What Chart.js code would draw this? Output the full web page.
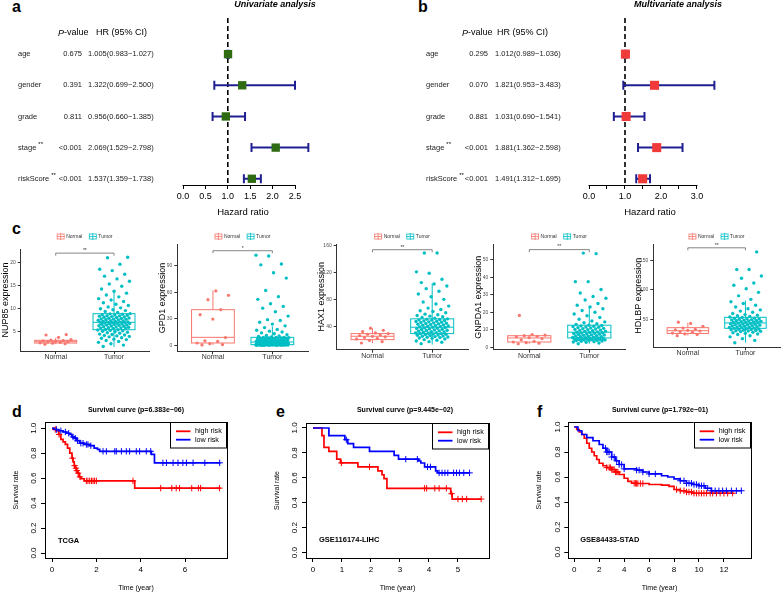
<!DOCTYPE html>
<html>
<head>
<meta charset="utf-8">
<title>Risk model figure</title>
<script src="https://cdn.jsdelivr.net/npm/chart.js@4.4.1/dist/chart.umd.min.js"></script>
<style>
  body { margin: 0; background: #fff; }
  #fig { position: relative; width: 784px; height: 592px; overflow: hidden; background: #fff; }
  #fig canvas { position: absolute; }
  .tag { position: absolute; font: bold 16px 'Liberation Sans', Arial, sans-serif; line-height: 16px; color: #000; }
</style>
</head>
<body>
<div id="fig">
  <div class="tag" style="left:12px;top:-1px">a</div>
  <div class="tag" style="left:418px;top:-1px">b</div>
  <div class="tag" style="left:12px;top:221px">c</div>
  <div class="tag" style="left:12px;top:404px">d</div>
  <div class="tag" style="left:276px;top:404px">e</div>
  <div class="tag" style="left:537px;top:404px">f</div>
</div>
<script>
// forest plots (a, b)
const factors = ['age', 'gender', 'grade', 'stage', 'riskScore'];
const factorStars = ['', '', '', '**', '**'];

const uniP = ['0.675', '0.391', '0.811', '<0.001', '<0.001'];
const uniHR = [1.005, 1.322, 0.956, 2.069, 1.537];
const uniLow = [0.983, 0.699, 0.660, 1.529, 1.359];
const uniHigh = [1.027, 2.500, 1.385, 2.798, 1.738];
const uniTicks = [0, 0.5, 1, 1.5, 2, 2.5];
const uniTickLabels = ['0.0', '0.5', '1.0', '1.5', '2.0', '2.5'];

const multiP = ['0.295', '0.070', '0.881', '<0.001', '<0.001'];
const multiHR = [1.012, 1.821, 1.031, 1.881, 1.491];
const multiLow = [0.989, 0.953, 0.690, 1.362, 1.312];
const multiHigh = [1.036, 3.483, 1.541, 2.598, 1.695];
const multiTicks = [0, 0.5, 1, 1.5, 2, 2.5, 3];
const multiTickLabels = ['0.0', '', '1.0', '', '2.0', '', '3.0'];

// box plots (c): [lower whisker, q1, median, q3, upper whisker]
const groups = ['Normal', 'Tumor'];

const nup85Normal = [2.2, 2.3, 2.4, 2.5, 2.6, 2.7, 2.75, 2.8, 2.9, 3.0, 3.1, 3.2, 3.7, 4.2, 4.3];
const nup85Tumor = [1.7, 2.0, 2.3, 2.6, 2.8, 3.0, 3.2, 3.3, 3.5, 3.6, 3.8, 3.9, 4.0, 4.1, 4.2, 4.3, 4.4, 4.6, 4.7, 4.8, 4.9, 5.0, 5.1, 5.2, 5.3, 5.35, 5.4,
  5.6, 5.65, 5.7, 5.75, 5.8, 5.9, 5.95, 6.0, 6.1, 6.15, 6.2, 6.3, 6.35, 6.4, 6.5, 6.55, 6.6, 6.65, 6.7, 6.75, 6.8, 6.85, 6.9, 6.95, 7.0, 7.0, 7.05,
  7.15, 7.2, 7.25, 7.3, 7.4, 7.45, 7.5, 7.6, 7.65, 7.7, 7.8, 7.85, 7.9, 8.0, 8.05, 8.1, 8.2, 8.3, 8.35, 8.4, 8.5, 8.55, 8.6, 8.7, 8.8, 8.85,
  9.1, 9.3, 9.5, 9.7, 9.9, 10.1, 10.3, 10.6, 10.9, 11.2, 11.5, 11.8, 12.1, 12.5, 12.9, 13.3, 13.7, 14.2, 14.8, 15.3, 15.9, 16.4, 17.0, 17.4, 18.2, 18.5, 19.6, 21.0, 21.1];
const nup85Stats = [[2.2, 2.45, 2.74, 3.04, 3.6], [1.6, 5.35, 6.96, 8.83, 13.9]];
const nup85Ticks = [5, 10, 15, 20];

const gpd1Normal = [0.4, 0.8, 1.8, 2.6, 4.5, 5.0, 8.8, 29.7, 34.6, 40.3, 51.6, 56.5, 61.5];
const gpd1Tumor = [0.0, 0.0, 0.05, 0.1, 0.1, 0.15, 0.2, 0.2, 0.25, 0.3, 0.3, 0.35, 0.4, 0.4, 0.45, 0.5, 0.5, 0.55, 0.55, 0.6, 0.6, 0.65, 0.65, 0.7, 0.7, 0.2, 0.1,
  0.8, 0.9, 1.0, 1.1, 1.2, 1.3, 1.4, 1.5, 1.6, 1.7, 1.8, 1.9, 2.0, 2.1, 2.2, 2.3, 2.4, 2.5, 2.6, 2.7, 2.8, 2.9, 3.0, 3.1, 3.2, 3.4, 3.5, 3.6,
  3.8, 4.0, 4.2, 4.4, 4.6, 4.8, 5.0, 5.2, 5.4, 5.6, 5.8, 6.0, 6.2, 6.4, 6.6, 6.8, 7.0, 7.2, 7.4, 7.6, 7.8, 8.0, 8.2, 8.4, 8.6, 8.8, 9.0, 9.0,
  9.5, 10, 10.5, 11, 12, 13, 14, 15, 16, 17, 18, 20, 22, 24, 26, 28, 29, 33, 38, 42, 44, 47, 52, 55, 62, 76, 82, 91, 92, 101, 102];
const gpd1Stats = [[0.4, 2.6, 9.0, 40.3, 62.0], [0.0, 0.7, 3.7, 9.0, 21.5]];
const gpd1Ticks = [0, 30, 60, 90];

const hax1Normal = [15, 17, 19, 21, 22, 23, 24, 25, 26, 27, 28, 29, 30, 32, 34, 37];
const hax1Tumor = [14, 16, 17, 18, 19, 20, 21, 22, 22.5, 23, 23.5, 24, 24.5, 25, 25.5, 26, 26.5, 27, 27.5, 28, 28.5, 29, 29,
  29.5, 30, 30.5, 31, 31.5, 32, 32.5, 33, 33.5, 34, 34.5, 35, 35.5, 36, 36.5, 37, 37.5, 38, 38.5, 39, 39.5, 40,
  40.5, 41, 41.5, 42, 42.5, 43, 43.5, 44, 44.5, 45, 45.5, 46, 46.5, 47, 47.5, 48, 48.5, 49, 49.5, 50, 50.5, 51,
  52, 53, 54, 55, 56, 57, 58, 60, 62, 63, 65, 67, 70, 73, 76, 80, 84, 88, 92, 96, 100, 103, 105, 110, 119, 121, 149, 149];
const hax1Stats = [[15, 20, 25, 29, 37], [12.5, 29, 38.5, 51, 104]];
const hax1Ticks = [40, 80, 120, 160];

const gnpda1Normal = [2.0, 2.3, 2.6, 3.0, 3.4, 4.3, 5.0, 5.5, 6.0, 6.3, 6.6, 6.9, 7.2, 18.2];
const gnpda1Tumor = [2.0, 2.4, 2.8, 3.0, 3.2, 3.4, 3.6, 3.8, 3.9, 4.0, 4.1, 4.2, 4.3, 4.4, 4.5, 4.6, 4.7, 4.8, 4.9, 5.0, 5.1, 5.2, 5.3,
  5.4, 5.6, 5.8, 6.0, 6.1, 6.3, 6.5, 6.6, 6.8, 7.0, 7.1, 7.3, 7.5, 7.6, 7.8, 8.0, 8.1, 8.3, 8.5, 8.6,
  8.8, 9.0, 9.2, 9.4, 9.6, 9.8, 10.0, 10.2, 10.4, 10.6, 10.8, 11.0, 11.2, 11.4, 11.6, 11.8, 12.0, 12.2, 12.4, 12.6,
  13, 13.5, 14, 14.5, 15, 16, 17, 18, 19, 20, 21, 22, 23, 24, 25, 27, 28, 29, 31, 33, 37.5, 37.5, 53.5, 53.8];
const gnpda1Stats = [[2.0, 3.0, 5.3, 6.6, 7.2], [2.0, 5.3, 8.6, 12.6, 23.5]];
const gnpda1Ticks = [0, 10, 20, 30, 40, 50];

const hdlbpNormal = [22, 24, 25, 26.5, 28, 29, 30, 31, 32, 33, 35, 38, 43, 45];
const hdlbpTumor = [10, 14, 17, 20, 22, 24, 25, 26, 27, 28, 29, 29.5, 30, 30.5, 31, 31.5, 32, 32.5, 33, 33.5, 34, 34.5,
  35, 35.5, 36, 36.5, 37, 37.5, 38, 38.5, 39, 39.5, 40, 40.5, 41, 41.5, 42, 42.5, 43, 43.5,
  44, 44.5, 45, 45.5, 46, 46.5, 47, 47.5, 48, 48.5, 49, 49.5, 50, 50.5, 51, 51.5, 52, 53,
  54, 55, 56, 57, 58, 60, 62, 64, 66, 68, 71, 74, 77, 80, 84, 90, 96, 102, 108, 112, 120, 124, 135, 135, 165];
const hdlbpStats = [[22, 25.8, 30.5, 35.7, 44], [10, 34.6, 43.7, 53.4, 82]];
const hdlbpTicks = [50, 100, 150];

// survival curves (d, e, f)
const survTicks = [0, 0.2, 0.4, 0.6, 0.8, 1.0];
const survTickLabels = ['0.0', '0.2', '0.4', '0.6', '0.8', '1.0'];

const tcgaHighTime = [0, 0.1, 0.2, 0.3, 0.4, 0.5, 0.6, 0.7, 0.8, 0.9, 0.95, 1.0, 1.05, 1.1, 1.15, 1.22, 1.3, 1.45, 3.73, 7.6];
const tcgaHighSurv = [1, 0.99, 0.98, 0.95, 0.91, 0.89, 0.87, 0.84, 0.8, 0.76, 0.73, 0.7, 0.68, 0.66, 0.64, 0.61, 0.595, 0.578, 0.52, 0.52];
const tcgaHighCens = [0.15, 0.32, 0.92, 1.02, 1.08, 1.12, 1.18, 1.26, 1.55, 1.62, 1.7, 1.78, 1.85, 1.92, 2.0, 3.65, 4.9, 5.4, 5.6, 5.75, 6.3, 6.6, 6.7, 7.55];
const tcgaLowTime = [0, 0.1, 0.3, 0.5, 0.65, 0.8, 0.9, 1.0, 1.1, 1.25, 1.45, 1.7, 1.9, 2.05, 2.15, 4.48, 4.62, 7.6];
const tcgaLowSurv = [1, 0.99, 0.98, 0.97, 0.96, 0.95, 0.93, 0.92, 0.9, 0.88, 0.87, 0.86, 0.84, 0.83, 0.815, 0.79, 0.723, 0.723];
const tcgaLowCens = [0.2, 0.4, 0.6, 0.75, 0.95, 1.05, 1.15, 1.3, 1.4, 1.55, 1.62, 1.75, 2.3, 2.45, 2.83, 2.9, 3.13, 3.35, 3.5, 3.8, 3.95, 4.25, 4.45,
  5.0, 5.16, 5.46, 5.68, 5.9, 6.06, 6.36, 6.89, 7.56];
const tcgaXTicks = [0, 2, 4, 6];

const lihcHighTime = [0, 0.31, 0.38, 0.55, 0.82, 0.95, 1.55, 2.24, 2.38, 2.45, 2.55, 4.75, 4.8, 5.8];
const lihcHighSurv = [1, 0.938, 0.844, 0.813, 0.75, 0.72, 0.688, 0.656, 0.625, 0.594, 0.516, 0.473, 0.43, 0.43];
const lihcHighCens = [0.98, 1.95, 3.85, 3.92, 4.2, 4.35, 4.6, 4.78, 5.0, 5.15, 5.3, 5.8];
const lihcLowTime = [0, 0.55, 1.1, 1.2, 1.4, 1.95, 2.8, 2.95, 3.65, 3.72, 3.85, 4.23, 4.3, 5.4];
const lihcLowSurv = [1, 0.938, 0.906, 0.875, 0.844, 0.813, 0.781, 0.75, 0.735, 0.719, 0.688, 0.656, 0.64, 0.64];
const lihcLowCens = [1.15, 3.2, 3.6, 3.95, 4.05, 4.35, 4.45, 4.55, 4.65, 4.85, 4.95, 5.05, 5.2, 5.4];
const lihcXTicks = [0, 1, 2, 3, 4, 5];

const stadHighTime = [0, 0.2, 0.4, 0.6, 0.8, 1.0, 1.2, 1.4, 1.6, 1.8, 2.0, 2.3, 2.6, 3.0, 3.3, 3.6, 4.0, 4.3, 4.6, 5.0, 6.0, 7.0, 7.6, 8.0, 8.5, 9.0, 9.5, 12.8];
const stadHighSurv = [1, 0.98, 0.96, 0.94, 0.91, 0.87, 0.83, 0.8, 0.77, 0.74, 0.71, 0.69, 0.675, 0.66, 0.64, 0.62, 0.59, 0.565, 0.55, 0.548, 0.54, 0.535, 0.525, 0.5, 0.49, 0.48, 0.47, 0.47];
const stadHighCens = [2.6, 2.8, 2.9, 3.0, 3.1, 3.2, 3.3, 3.4, 3.5, 4.8, 4.9, 5.0, 5.1, 5.3, 5.5, 8.2, 8.5, 8.8, 9.0, 9.2, 9.4, 9.6, 9.8,
  10.0, 10.2, 10.4, 10.6, 10.9, 11.1, 11.4, 11.7, 12.0, 12.3, 12.7];
const stadLowTime = [0, 0.3, 0.6, 1.0, 1.5, 2.0, 2.3, 2.6, 3.0, 3.3, 3.6, 4.0, 5.0, 5.5, 6.0, 7.0, 7.5, 8.0, 8.5, 9.0, 9.5, 10.0, 10.5, 11.0, 13.4];
const stadLowSurv = [1, 0.97, 0.94, 0.915, 0.89, 0.86, 0.83, 0.8, 0.76, 0.73, 0.7, 0.665, 0.655, 0.64, 0.625, 0.61, 0.6, 0.585, 0.57, 0.55, 0.54, 0.53, 0.51, 0.49, 0.49];
const stadLowCens = [2.5, 2.6, 2.7, 2.8, 3.0, 3.2, 3.4, 3.6, 3.8, 4.0, 5.0, 5.2, 5.5, 6.0, 6.5, 8.5, 8.8, 9.0, 9.2, 9.4, 9.6, 9.8,
  10.0, 10.2, 10.4, 10.7, 11.0, 11.3, 11.6, 11.9, 12.2, 12.6, 13.0, 13.4];
const stadXTicks = [0, 2, 4, 6, 8, 10, 12];

// ---------------------------------------------------------------
const FONT = "'Liberation Sans', Arial, Helvetica, sans-serif";
Chart.defaults.font.family = FONT;
const fig = document.getElementById('fig');
const NORMAL_COL = '#F8766D';
const TUMOR_COL = '#00BFC4';

function makeCanvas(left, top, w, h) {
  const c = document.createElement('canvas');
  c.width = w; c.height = h;
  c.style.left = left + 'px'; c.style.top = top + 'px';
  c.style.width = w + 'px'; c.style.height = h + 'px';
  fig.appendChild(c);
  return c;
}

function text(ctx, s, x, y, size, opt = {}) {
  ctx.save();
  ctx.font = `${opt.italic ? 'italic ' : ''}${opt.bold ? 'bold ' : ''}${size}px ${FONT}`;
  ctx.fillStyle = opt.color || '#000';
  ctx.textAlign = opt.align || 'left';
  ctx.textBaseline = opt.base || 'middle';
  ctx.translate(x, y);
  if (opt.rot) ctx.rotate(opt.rot);
  ctx.fillText(s, 0, 0);
  const w = ctx.measureText(s).width;
  ctx.restore();
  return w;
}

function baseOptions(cl, ct, cw, area) {
  return {
    responsive: false, animation: false, devicePixelRatio: 1, events: [],
    layout: { padding: { left: 0, bottom: 0, top: area.t - ct, right: cl + cw - area.r } },
    plugins: { legend: { display: false }, tooltip: { enabled: false } }
  };
}

// ---------------- forest plot ----------------
function forest(p) {
  const { cl, ct, cw, ch, area } = p;
  const opts = baseOptions(cl, ct, cw, area);
  opts.scales = {
    x: {
      type: 'linear', min: 0, max: p.xMax,
      afterBuildTicks: s => { s.ticks = p.ticks.map(v => ({ value: v })); },
      afterFit: s => { s.height = ct + ch - area.b; },
      border: { display: false },
      grid: { drawOnChartArea: false, drawTicks: true, tickLength: 4, color: '#000', lineWidth: 1 },
      ticks: { autoSkip: false, maxRotation: 0, padding: 2, color: '#000', font: { size: 9 },
        callback: (v, i) => p.tickLabels[i] }
    },
    y: {
      type: 'linear', min: -1.16, max: 4.2, reverse: true,
      afterFit: s => { s.width = area.l - cl; },
      ticks: { display: false }, grid: { display: false }, border: { display: false }
    }
  };
  new Chart(makeCanvas(cl, ct, cw, ch), {
    type: 'scatter',
    data: { datasets: [{
      data: p.hr.map((v, i) => ({ x: v, y: i })),
      pointStyle: 'rect', pointRadius: p.size,
      backgroundColor: p.color, borderColor: p.color, borderWidth: 0
    }] },
    options: opts,
    plugins: [{
      id: 'forestParts',
      beforeDatasetsDraw(chart) {
        const { ctx, chartArea: ca } = chart;
        const { x, y } = chart.scales;
        ctx.save();
        const x1 = x.getPixelForValue(1);
        ctx.strokeStyle = '#000'; ctx.lineWidth = 1.6; ctx.setLineDash([5, 3]);
        ctx.beginPath(); ctx.moveTo(x1, ca.top); ctx.lineTo(x1, ca.bottom); ctx.stroke();
        ctx.setLineDash([]);
        ctx.lineWidth = 1;
        ctx.beginPath();
        ctx.moveTo(x.getPixelForValue(p.ticks[0]) - 0.5, Math.round(ca.bottom) + 0.5);
        ctx.lineTo(x.getPixelForValue(p.ticks[p.ticks.length - 1]) + 0.5, Math.round(ca.bottom) + 0.5);
        ctx.stroke();
        ctx.strokeStyle = '#1F1F91'; ctx.lineWidth = 2;
        p.low.forEach((lo, i) => {
          const yy = y.getPixelForValue(i);
          const a = x.getPixelForValue(lo), b = x.getPixelForValue(p.high[i]);
          ctx.beginPath();
          ctx.moveTo(a, yy); ctx.lineTo(b, yy);
          ctx.moveTo(a, yy - 4.5); ctx.lineTo(a, yy + 4.5);
          ctx.moveTo(b, yy - 4.5); ctx.lineTo(b, yy + 4.5);
          ctx.stroke();
        });
        ctx.restore();
      },
      afterDraw(chart) {
        const { ctx } = chart;
        const y = chart.scales.y;
        const c = p.cols;
        text(ctx, p.title, p.titleX - cl, 5 - ct, 9, { bold: true, italic: true, align: 'center' });
        const pw = text(ctx, 'P', c.headP - cl, 33 - ct, 9, { italic: true });
        text(ctx, '-value', c.headP - cl + pw, 33 - ct, 9);
        text(ctx, 'HR (95% CI)', c.headHR - cl, 33 - ct, 9);
        factors.forEach((f, i) => {
          const yy = y.getPixelForValue(i);
          const w = text(ctx, f, c.label - cl, yy, 7.5, { color: '#222' });
          if (factorStars[i]) text(ctx, factorStars[i], c.label - cl + w + 2, yy - 3, 6);
          text(ctx, p.pvals[i], c.p - cl, yy, 7.5, { align: 'right', color: '#222' });
          const hrTxt = `${p.hr[i].toFixed(3)}(${p.low[i].toFixed(3)}\u2212${p.high[i].toFixed(3)})`;
          text(ctx, hrTxt, c.hr - cl, yy, 7.5, { color: '#222' });
        });
        text(ctx, 'Hazard ratio', p.axisTitleX - cl, 212 - ct, 9.5, { align: 'center' });
      }
    }]
  });
}

forest({
  cl: 0, ct: 0, cw: 390, ch: 222, area: { l: 183, r: 311, t: 18, b: 185 }, xMax: 2.857,
  ticks: uniTicks, tickLabels: uniTickLabels, hr: uniHR, low: uniLow, high: uniHigh, pvals: uniP,
  color: '#2E6B12', size: 5.9, title: 'Univariate analysis', titleX: 275, axisTitleX: 243,
  cols: { label: 18, p: 82, hr: 88, headP: 58, headHR: 96 }
});
forest({
  cl: 390, ct: 0, cw: 394, ch: 222, area: { l: 589, r: 716, t: 18, b: 185 }, xMax: 3.528,
  ticks: multiTicks, tickLabels: multiTickLabels, hr: multiHR, low: multiLow, high: multiHigh, pvals: multiP,
  color: '#F03A3A', size: 6.4, title: 'Multivariate analysis', titleX: 678, axisTitleX: 650,
  cols: { label: 426, p: 488, hr: 495, headP: 462, headHR: 497 }
});

// ---------------- box plots ----------------
const jitter = i => (((i * 0.6180339887 + 0.17) % 1) - 0.5) * 0.56;

function boxPlot(g) {
  const { cl, ct, cw, ch, area } = g;
  const cols = [NORMAL_COL, TUMOR_COL];
  const axisStyle = {
    border: { display: true, color: '#333', width: 1 },
    grid: { drawOnChartArea: false, drawTicks: true, tickLength: 3, color: '#333', lineWidth: 1 }
  };
  const opts = baseOptions(cl, ct, cw, area);
  opts.scales = {
    x: {
      type: 'linear', min: 0.4, max: 2.6, ...axisStyle,
      afterBuildTicks: s => { s.ticks = [1, 2].map(v => ({ value: v })); },
      afterFit: s => { s.height = ct + ch - area.b; },
      ticks: { autoSkip: false, maxRotation: 0, padding: -1, color: '#333', font: { size: 7 },
        callback: (v, i) => groups[i] }
    },
    y: {
      type: 'linear', min: g.yMin, max: g.yMax, ...axisStyle,
      afterBuildTicks: s => { s.ticks = g.ticks.map(v => ({ value: v })); },
      afterFit: s => { s.width = area.l - cl; },
      ticks: { autoSkip: false, padding: 2, color: '#4D4D4D', font: { size: 5 } }
    }
  };
  const pts = (vals, c) => vals.map((v, i) => ({ x: c + jitter(i), y: v }));
  new Chart(makeCanvas(cl, ct, cw, ch), {
    type: 'scatter',
    data: { datasets: [
      { label: groups[0], data: pts(g.normal, 1), backgroundColor: cols[0], borderWidth: 0, pointRadius: 1.6 },
      { label: groups[1], data: pts(g.tumor, 2), backgroundColor: cols[1], borderWidth: 0, pointRadius: 1.7 }
    ] },
    options: opts,
    plugins: [{
      id: 'boxes',
      beforeDatasetsDraw(chart) {
        const { ctx } = chart;
        const { x, y } = chart.scales;
        ctx.save();
        ctx.lineWidth = 1;
        g.stats.forEach((st, k) => {
          const cx = x.getPixelForValue(k + 1);
          const hw = x.getPixelForValue(k + 1.36) - cx;
          const [lo, q1, md, q3, hi] = st.map(v => y.getPixelForValue(v));
          ctx.strokeStyle = cols[k];
          ctx.beginPath();
          ctx.moveTo(cx, lo); ctx.lineTo(cx, q1);
          ctx.moveTo(cx, q3); ctx.lineTo(cx, hi);
          ctx.stroke();
          ctx.strokeRect(cx - hw, q3, 2 * hw, q1 - q3);
          ctx.beginPath(); ctx.moveTo(cx - hw, md); ctx.lineTo(cx + hw, md); ctx.stroke();
        });
        ctx.restore();
      },
      afterDraw(chart) {
        const { ctx, chartArea: ca } = chart;
        const { x, y } = chart.scales;
        ctx.save();
        // significance bracket
        const by = y.getPixelForValue(g.sigY);
        const bx1 = x.getPixelForValue(1), bx2 = x.getPixelForValue(2);
        ctx.strokeStyle = '#666'; ctx.lineWidth = 0.8;
        ctx.beginPath();
        ctx.moveTo(bx1, by + 2.5); ctx.lineTo(bx1, by); ctx.lineTo(bx2, by); ctx.lineTo(bx2, by + 2.5);
        ctx.stroke();
        text(ctx, g.sig, (bx1 + bx2) / 2, by - 2.5, 5, { align: 'center', color: '#333' });
        // y title
        text(ctx, g.title, area.l - cl - 15, (ca.top + ca.bottom) / 2, 9, { align: 'center', rot: -Math.PI / 2, color: '#000' });
        // legend
        ctx.font = `5px ${FONT}`;
        const w0 = ctx.measureText(groups[0]).width, w1 = ctx.measureText(groups[1]).width;
        const total = 7 + 2 + w0 + 7 + 7 + 2 + w1;
        let lx = (ca.left + ca.right) / 2 - total / 2;
        const ly = 236.5 - ct;
        [w0, w1].forEach((w, k) => {
          ctx.strokeStyle = cols[k]; ctx.fillStyle = cols[k]; ctx.lineWidth = 0.8;
          ctx.strokeRect(lx, ly - 2.5, 7, 5);
          ctx.beginPath();
          ctx.moveTo(lx, ly); ctx.lineTo(lx + 7, ly);
          ctx.moveTo(lx + 3.5, ly - 3.5); ctx.lineTo(lx + 3.5, ly + 3.5);
          ctx.stroke();
          text(ctx, groups[k], lx + 9, ly, 5, { color: '#333' });
          lx += 7 + 2 + w + 7;
        });
        ctx.restore();
      }
    }]
  });
}

boxPlot({ cl: 0, ct: 228, cw: 155, ch: 135, area: { l: 20.7, r: 149, t: 249, b: 351 }, yMin: 0.72, yMax: 22.9,
  normal: nup85Normal, tumor: nup85Tumor, stats: nup85Stats, ticks: nup85Ticks, title: 'NUP85 expression', sigY: 22.0, sig: '**' });
boxPlot({ cl: 150, ct: 228, cw: 162, ch: 135, area: { l: 177.3, r: 308.6, t: 244.7, b: 351.3 }, yMin: -6.8, yMax: 113.8,
  normal: gpd1Normal, tumor: gpd1Tumor, stats: gpd1Stats, ticks: gpd1Ticks, title: 'GPD1 expression', sigY: 107, sig: '*' });
boxPlot({ cl: 310, ct: 228, cw: 162, ch: 135, area: { l: 336.7, r: 468, t: 244, b: 349.7 }, yMin: 5, yMax: 162.5,
  normal: hax1Normal, tumor: hax1Tumor, stats: hax1Stats, ticks: hax1Ticks, title: 'HAX1 expression', sigY: 154, sig: '**' });
boxPlot({ cl: 466, ct: 228, cw: 164, ch: 135, area: { l: 493.3, r: 625.3, t: 244.7, b: 349.7 }, yMin: -1.4, yMax: 58.6,
  normal: gnpda1Normal, tumor: gnpda1Tumor, stats: gnpda1Stats, ticks: gnpda1Ticks, title: 'GNPDA1 expression', sigY: 55.8, sig: '**' });
boxPlot({ cl: 626, ct: 228, cw: 158, ch: 135, area: { l: 653.3, r: 781.8, t: 244, b: 347.3 }, yMin: 2.2, yMax: 178.5,
  normal: hdlbpNormal, tumor: hdlbpTumor, stats: hdlbpStats, ticks: hdlbpTicks, title: 'HDLBP expression', sigY: 172, sig: '**' });

// ---------------- survival curves ----------------
function survAt(t, times, surv) {
  let s = surv[0];
  for (let i = 0; i < times.length; i++) if (times[i] <= t) s = surv[i];
  return s;
}

function survival(p) {
  const { cl, ct, cw, ch, area } = p;
  const axisStyle = {
    border: { display: false },
    grid: { drawOnChartArea: false, drawTicks: true, tickLength: 4, color: '#000', lineWidth: 1 }
  };
  const opts = baseOptions(cl, ct, cw, area);
  opts.scales = {
    x: {
      type: 'linear', min: p.xMin, max: p.xMax, ...axisStyle,
      afterBuildTicks: s => { s.ticks = p.xTicks.map(v => ({ value: v })); },
      afterFit: s => { s.height = ct + ch - area.b; },
      ticks: { autoSkip: false, maxRotation: 0, padding: 3, color: '#000', font: { size: 8 } }
    },
    y: {
      type: 'linear', min: p.yMin, max: p.yMax, ...axisStyle,
      afterBuildTicks: s => { s.ticks = survTicks.map(v => ({ value: v })); },
      afterFit: s => { s.width = area.l - cl; },
      ticks: { display: false }
    }
  };
  const curve = (t, s, col) => ({
    data: t.map((v, i) => ({ x: v, y: s[i] })), showLine: true, stepped: 'before',
    borderColor: col, borderWidth: 1.7, pointRadius: 0, fill: false
  });
  const marks = (cens, t, s, col) => ({
    data: cens.map(v => ({ x: v, y: survAt(v, t, s) })), showLine: false,
    pointStyle: 'cross', pointRadius: 3.2, borderColor: col, borderWidth: 1
  });
  new Chart(makeCanvas(cl, ct, cw, ch), {
    type: 'scatter',
    data: { datasets: [
      curve(p.lowT, p.lowS, '#0000FF'),
      marks(p.lowC, p.lowT, p.lowS, '#0000FF'),
      curve(p.highT, p.highS, '#FF0000'),
      marks(p.highC, p.highT, p.highS, '#FF0000')
    ] },
    options: opts,
    plugins: [{
      id: 'survParts',
      afterDraw(chart) {
        const { ctx, chartArea: ca } = chart;
        const { x, y } = chart.scales;
        ctx.save();
        ctx.strokeStyle = '#000'; ctx.lineWidth = 1;
        ctx.strokeRect(Math.round(ca.left) + 0.5, Math.round(ca.top) + 0.5,
          Math.round(ca.right) - Math.round(ca.left), Math.round(ca.bottom) - Math.round(ca.top));
        survTicks.forEach((v, i) => {
          text(ctx, survTickLabels[i], ca.left - 11, y.getPixelForValue(v), 8, { align: 'center', rot: -Math.PI / 2 });
        });
        text(ctx, p.title, p.titleX - cl, 410 - ct, 7, { bold: true, align: 'center' });
        text(ctx, 'Time (year)', (ca.left + ca.right) / 2, 588 - ct, 7, { align: 'center' });
        text(ctx, 'Survival rate', ca.left - 29, (ca.top + ca.bottom) / 2, 7, { align: 'center', rot: -Math.PI / 2 });
        text(ctx, p.label, x.getPixelForValue(0) + 6, y.getPixelForValue(0.1), 7.5, { bold: true });
        // legend box
        const bw = 57, bh = 25.5, bx = ca.right - bw, by = ca.top;
        ctx.fillStyle = '#fff';
        ctx.fillRect(bx, by, bw, bh);
        ctx.strokeRect(Math.round(bx) + 0.5, Math.round(by) + 0.5, bw - 1, bh);
        [['high risk', '#FF0000', 9.3], ['low risk', '#0000FF', 17.7]].forEach(([lab, col, dy]) => {
          ctx.strokeStyle = col; ctx.lineWidth = 1.8;
          ctx.beginPath(); ctx.moveTo(bx + 6, by + dy); ctx.lineTo(bx + 20.5, by + dy); ctx.stroke();
          text(ctx, lab, bx + 25, by + dy, 7.2);
        });
        ctx.restore();
      }
    }]
  });
}

survival({ cl: 0, ct: 400, cw: 262, ch: 192, area: { l: 45, r: 227, t: 422, b: 558 },
  xMin: -0.316, xMax: 7.89, yMin: -0.04, yMax: 1.05, xTicks: tcgaXTicks,
  highT: tcgaHighTime, highS: tcgaHighSurv, highC: tcgaHighCens, lowT: tcgaLowTime, lowS: tcgaLowSurv, lowC: tcgaLowCens,
  title: 'Survival curve (p=6.383e\u221206)', titleX: 136, label: 'TCGA' });
survival({ cl: 265, ct: 400, cw: 260, ch: 192, area: { l: 306, r: 489, t: 423, b: 558 },
  xMin: -0.24, xMax: 6.07, yMin: -0.043, yMax: 1.04, xTicks: lihcXTicks,
  highT: lihcHighTime, highS: lihcHighSurv, highC: lihcHighCens, lowT: lihcLowTime, lowS: lihcLowSurv, lowC: lihcLowCens,
  title: 'Survival curve (p=9.445e\u221202)', titleX: 405, label: 'GSE116174-LIHC' });
survival({ cl: 520, ct: 400, cw: 264, ch: 192, area: { l: 568.3, r: 750.7, t: 422, b: 558 },
  xMin: -0.48, xMax: 14.15, yMin: -0.048, yMax: 1.04, xTicks: stadXTicks,
  highT: stadHighTime, highS: stadHighSurv, highC: stadHighCens, lowT: stadLowTime, lowS: stadLowSurv, lowC: stadLowCens,
  title: 'Survival curve (p=1.792e\u221201)', titleX: 660, label: 'GSE84433-STAD' });
</script>
</body>
</html>
